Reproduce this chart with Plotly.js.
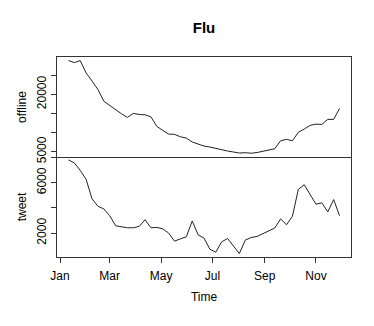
<!DOCTYPE html>
<html>
<head>
<meta charset="utf-8">
<script src="https://cdn.plot.ly/plotly-3.0.1.min.js"></script>
<style>
  body { margin: 0; background: #fff; }
  #flu { width: 374px; height: 326px; }
</style>
</head>
<body>
<div id="flu"></div>
<script>
// weekly series, first week ending 2009-01-11
var start_date = '2009-01-11';

var offline = [28800, 28280, 28800, 25570, 23490, 21250, 18200, 17080, 15780, 14900,
               13960, 15000, 14740, 14640, 14110, 11610, 10570, 9610, 9530, 8900,
               8570, 7530, 7000, 6480, 6220, 5830, 5440, 5180, 4920, 4660,
               4740, 4610, 4790, 5100, 5440, 5780, 7860, 8230, 7860, 10050,
               10910, 11875, 12210, 12135, 13440, 13440, 16300];

var tweet = [7810, 7570, 6980, 6260, 4720, 4130, 3920, 3380, 2580, 2480,
             2420, 2420, 2530, 3060, 2420, 2450, 2340, 2000, 1360, 1540,
             1700, 2960, 1860, 1600, 720, 480, 1300, 1570, 930, 370,
             1440, 1650, 1730, 1940, 2130, 2400, 3120, 2660, 3330, 5460,
             5840, 5090, 4290, 4400, 3680, 4660, 3380];

var month_ticks = ['2009-01-01', '2009-03-01', '2009-05-01', '2009-07-01', '2009-09-01', '2009-11-01'];
var month_labels = ['Jan', 'Mar', 'May', 'Jul', 'Sep', 'Nov'];

var offline_ticks = [5000, 10000, 15000, 20000, 25000];
var offline_labels = ['5000', '', '', '20000', ''];
var tweet_ticks = [2000, 4000, 6000, 8000];
var tweet_labels = ['2000', '', '6000', ''];

var weeks = [];
var d0 = new Date(start_date + 'T00:00:00Z');
for (var i = 0; i < offline.length; i++) {
    var d = new Date(d0.getTime() + i * 7 * 86400000);
    weeks.push(d.toISOString().slice(0, 10));
}

var fnt = 'Liberation Sans, Arial, Helvetica, sans-serif';
var x_range = ['2008-12-28 10:00', '2009-12-12 14:00'];

var data = [
  { type: 'scatter', mode: 'lines', x: weeks, y: offline,
    xaxis: 'x2', yaxis: 'y',
    line: {color: '#222222', width: 1}, hoverinfo: 'x+y', showlegend: false },
  { type: 'scatter', mode: 'lines', x: weeks, y: tweet,
    xaxis: 'x', yaxis: 'y2',
    line: {color: '#222222', width: 1}, hoverinfo: 'x+y', showlegend: false }
];

var layout = {
  width: 374, height: 326,
  margin: {l: 57, r: 23, t: 57, b: 69},
  paper_bgcolor: '#ffffff', plot_bgcolor: '#ffffff',
  font: {family: fnt, size: 12, color: '#000'},
  title: {text: '<b>Flu</b>', x: 0.5, xref: 'paper', xanchor: 'center',
          y: 1, yref: 'container', yanchor: 'top', pad: {t: 22},
          font: {family: fnt, size: 15, color: '#000'}},
  // bottom axis with the month labels (top border comes from the upper panel)
  xaxis: {anchor: 'y2', type: 'date', range: x_range,
          tickvals: month_ticks, ticktext: month_labels,
          ticks: 'outside', ticklen: 5, tickcolor: '#333', ticklabelstandoff: 3,
          showline: true, linecolor: '#333', linewidth: 1, mirror: false,
          showgrid: false, zeroline: false,
          title: {text: 'Time', standoff: 10, font: {size: 12}}},
  xaxis2: {anchor: 'y', matches: 'x', type: 'date', range: x_range,
           showticklabels: false, ticks: '',
           showline: true, linecolor: '#333', linewidth: 1, mirror: true,
           showgrid: false, zeroline: false},
  yaxis: {domain: [0.5, 1], range: [3620, 29740],
          tickvals: offline_ticks, ticktext: offline_labels, tickangle: -90,
          ticks: 'outside', ticklen: 5, tickcolor: '#333',
          showline: true, linecolor: '#333', linewidth: 1, mirror: true,
          showgrid: false, zeroline: false,
          title: {text: 'offline', standoff: 6, font: {size: 12}}},
  yaxis2: {domain: [0, 0.5], range: [100, 8040],
           tickvals: tweet_ticks, ticktext: tweet_labels, tickangle: -90,
           ticks: 'outside', ticklen: 5, tickcolor: '#333',
           showline: true, linecolor: '#333', linewidth: 1, mirror: true,
           showgrid: false, zeroline: false,
           title: {text: 'tweet', standoff: 6, font: {size: 12}}}
};

Plotly.newPlot('flu', data, layout, {displayModeBar: false, staticPlot: true});
</script>
</body>
</html>
